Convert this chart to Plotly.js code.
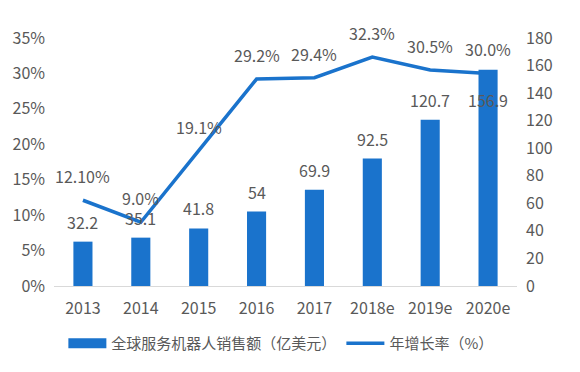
<!DOCTYPE html>
<html><head><meta charset="utf-8">
<script src="https://cdn.plot.ly/plotly-3.0.1.min.js"></script>
<style>html,body{margin:0;padding:0;background:#fff}</style>
</head><body>
<div id="chart" style="width:580px;height:372px"></div>
<script>
var categories = ['2013','2014','2015','2016','2017','2018e','2019e','2020e'];
var sales = [32.2, 35.1, 41.8, 54, 69.9, 92.5, 120.7, 156.9];
var salesLabels = ['32.2','35.1','41.8','54','69.9','92.5','120.7','156.9'];
var growth = [12.1, 9.0, 19.1, 29.2, 29.4, 32.3, 30.5, 30.0];
var growthLabels = ['12.10%','9.0%','19.1%','29.2%','29.4%','32.3%','30.5%','30.0%'];
var barName = '全球服务机器人销售额（亿美元）';
var lineName = '年增长率（%）';

var blue = '#1a73cc';
var gray = '#595959';
var font = '"Noto Sans CJK SC", "Noto Sans", sans-serif';
var fs = 16;

var traces = [
  {type:'bar', x:categories, y:sales, yaxis:'y2', marker:{color:blue}, width:0.33,
   name:barName, showlegend:false, hoverinfo:'skip'},
  {type:'scatter', mode:'lines', x:[categories[0]], y:[null], yaxis:'y2', name:barName,
   line:{color:blue, width:10}, showlegend:true, hoverinfo:'skip'},
  {type:'scatter', mode:'lines', x:categories, y:growth, yaxis:'y', name:lineName,
   line:{color:blue, width:3.5}, hoverinfo:'skip'}
];

var annotations = [];
categories.forEach(function(c, i){
  annotations.push({x:i, y:sales[i], xref:'x', yref:'y2', text:salesLabels[i], showarrow:false,
    yshift: i === categories.length-1 ? -30 : 20, font:{size:fs, color:gray, family:font}});
  annotations.push({x:i, y:growth[i], xref:'x', yref:'y', text:growthLabels[i], showarrow:false,
    yshift: 24, font:{size:fs, color:gray, family:font}});
});

var layout = {
  width:580, height:372,
  margin:{l:54, r:63, t:38, b:86},
  paper_bgcolor:'#fff', plot_bgcolor:'#fff',
  font:{family:font, size:fs, color:gray},
  showlegend:true,
  legend:{orientation:'h', x:0.49, xanchor:'center', y:-0.165, yanchor:'top',
    font:{size:15, color:gray, family:font}, itemwidth:38, traceorder:'normal'},
  xaxis:{type:'category', categoryarray:categories, categoryorder:'array', range:[-0.5, categories.length-0.5],
    showgrid:false, zeroline:false, showline:true, linecolor:'#d9d9d9',
    linewidth:1, ticks:'', tickfont:{size:fs, color:gray}, ticklabelstandoff:8},
  yaxis:{range:[0,35], dtick:5, ticksuffix:'%', showgrid:false, zeroline:false, showline:false,
    tickfont:{size:fs, color:gray}, ticklabelstandoff:8},
  yaxis2:{range:[0,180], dtick:20, overlaying:'y', side:'right', showgrid:false, zeroline:false,
    showline:false, tickfont:{size:fs, color:gray}, ticklabelstandoff:8},
  annotations:annotations
};

Plotly.newPlot('chart', traces, layout, {displayModeBar:false, staticPlot:true});
</script>
</body></html>
